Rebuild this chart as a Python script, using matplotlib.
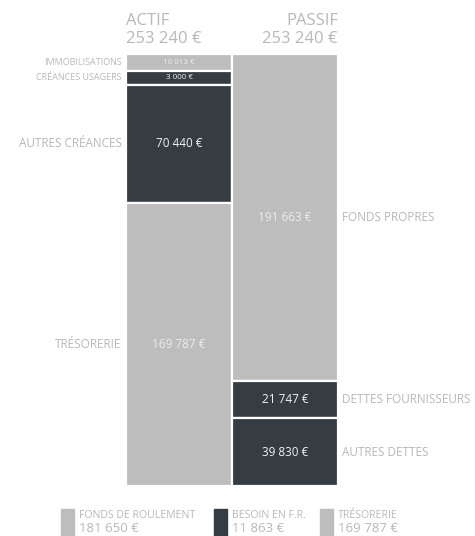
import matplotlib.pyplot as plt
from matplotlib.patches import Rectangle

plt.rcParams['font.family'] = ['Open Sans', 'DejaVu Sans']

# Data
actif_labels = ["IMMOBILISATIONS", "CRÉANCES USAGERS", "AUTRES CRÉANCES", "TRÉSORERIE"]
actif_values = [10013, 3000, 70440, 169787]
actif_dark = [False, True, True, False]

passif_labels = ["FONDS PROPRES", "DETTES FOURNISSEURS", "AUTRES DETTES"]
passif_values = [191663, 21747, 39830]
passif_dark = [False, True, True]

legend_labels = ["FONDS DE ROULEMENT", "BESOIN EN F.R.", "TRÉSORERIE"]
legend_values = [181650, 11863, 169787]
legend_dark = [False, True, False]

LIGHT = "#bdbdbd"
DARK = "#353d43"
TXT = "#b8b8b8"


def fmt(v):
    return f"{v:,}".replace(",", " ") + " €"


def display_heights(values, total, min_frac=0.034):
    # small segments get a minimum height so their labels fit
    h = [max(v, min_frac * total) for v in values]
    s = sum(h)
    return [x * total / s for x in h]


total = sum(actif_values)

fig = plt.figure(figsize=(4.75, 5.36), dpi=100)
ax = fig.add_axes([126 / 475, 1 - 486 / 536, 212 / 475, 432 / 536])
ax.set_xlim(-0.5, 1.5)
ax.set_ylim(total, 0)
ax.axis("off")


def draw_column(x, labels, values, dark, side):
    heights = display_heights(values, total)
    bottom = 0
    for lab, v, h, d in zip(labels, values, heights, dark):
        ax.bar(x, h, bottom=bottom, width=1.0, color=DARK if d else LIGHT,
               edgecolor="white", linewidth=1.6)
        mid = bottom + h / 2
        small = h < 0.05 * total
        ax.text(x, mid, fmt(v), ha="center", va="center",
                fontsize=5.8 if small else 8.5,
                color="#f2f2f2" if d else "#ececec")
        if side == "left":
            ax.text(x - 0.54, mid, lab, ha="right", va="center",
                    fontsize=6.5 if small else 8.5, color=TXT)
        else:
            ax.text(x + 0.54, mid, lab, ha="left", va="center",
                    fontsize=6.5 if small else 8.5, color=TXT)
        bottom += h


draw_column(0, actif_labels, actif_values, actif_dark, "left")
draw_column(1, passif_labels, passif_values, passif_dark, "right")

# Headers
fig.text(126 / 475, 1 - 21 / 536, "ACTIF", ha="left", va="center", fontsize=12, color=TXT)
fig.text(126 / 475, 1 - 39 / 536, fmt(sum(actif_values)), ha="left", va="center", fontsize=12, color=TXT)
fig.text(338 / 475, 1 - 21 / 536, "PASSIF", ha="right", va="center", fontsize=12, color=TXT)
fig.text(338 / 475, 1 - 39 / 536, fmt(sum(passif_values)), ha="right", va="center", fontsize=12, color=TXT)

# Legend
leg_x = [61, 214, 320]
for x, lab, v, d in zip(leg_x, legend_labels, legend_values, legend_dark):
    fig.patches.append(Rectangle((x / 475, 0), 13 / 475, 27 / 536,
                                 transform=fig.transFigure, color=DARK if d else LIGHT))
    fig.text((x + 18) / 475, 1 - 515 / 536, lab, ha="left", va="center", fontsize=7.6, color=TXT)
    fig.text((x + 18) / 475, 1 - 529 / 536, fmt(v), ha="left", va="center", fontsize=9.5, color=TXT)

fig.savefig("out.png", dpi=100, facecolor="white")
